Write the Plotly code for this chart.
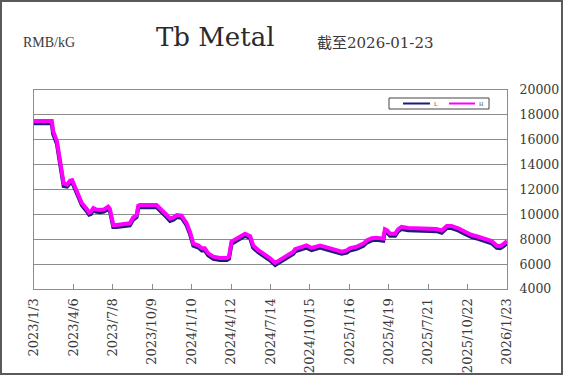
import plotly.graph_objects as go

# ---------------- data ----------------
dates = [
    "2023-01-03", "2023-02-14", "2023-02-17", "2023-02-21", "2023-02-26", "2023-03-05",
    "2023-03-10", "2023-03-14", "2023-03-22", "2023-03-29", "2023-04-03", "2023-04-06",
    "2023-04-14", "2023-04-21", "2023-04-26", "2023-05-07", "2023-05-13", "2023-05-17",
    "2023-05-23", "2023-05-29", "2023-06-08", "2023-06-17", "2023-06-27", "2023-07-01",
    "2023-07-06", "2023-07-09", "2023-07-17", "2023-07-25", "2023-08-10", "2023-08-17",
    "2023-08-25", "2023-09-02", "2023-09-06", "2023-09-10", "2023-10-19", "2023-10-31",
    "2023-11-12", "2023-11-20", "2023-11-28", "2023-12-06", "2023-12-17", "2023-12-29",
    "2024-01-06", "2024-01-14", "2024-01-26", "2024-02-03", "2024-02-10", "2024-02-18",
    "2024-03-01", "2024-03-17", "2024-04-02", "2024-04-07", "2024-04-13", "2024-04-25",
    "2024-05-07", "2024-05-15", "2024-05-27", "2024-06-03", "2024-06-15", "2024-06-27",
    "2024-07-13", "2024-07-25", "2024-08-05", "2024-08-21", "2024-08-29", "2024-09-06",
    "2024-09-10", "2024-09-22", "2024-10-07", "2024-10-19", "2024-10-27", "2024-11-08",
    "2024-11-24", "2024-12-17", "2024-12-29", "2025-01-10", "2025-01-17", "2025-02-02",
    "2025-02-18", "2025-02-26", "2025-03-10", "2025-03-21", "2025-03-29", "2025-04-06",
    "2025-04-10", "2025-04-16", "2025-04-22", "2025-05-04", "2025-05-11", "2025-05-19",
    "2025-06-04", "2025-06-28", "2025-07-21", "2025-08-10", "2025-08-22", "2025-09-03",
    "2025-09-14", "2025-09-22", "2025-09-30", "2025-10-16", "2025-11-01", "2025-11-16",
    "2025-12-02", "2025-12-18", "2025-12-30", "2026-01-07", "2026-01-14", "2026-01-23",
]

high = [
    17500, 17500, 16700, 16300, 15900, 14400,
    13300, 12500, 12400, 12700, 12750, 12500,
    11700, 11150, 10900, 10450, 10150, 10200,
    10500, 10400, 10350, 10400, 10620, 10450,
    9700, 9150, 9150, 9200, 9250, 9280,
    9750, 9950, 10700, 10750, 10750, 10400,
    9950, 9650, 9750, 9950, 9900, 9300,
    8600, 7650, 7500, 7270, 7270, 6870,
    6600, 6500, 6500, 6600, 7810, 8050,
    8300, 8450, 8250, 7500, 7130, 6870,
    6470, 6100, 6330, 6600, 6810, 7000,
    7200, 7350, 7500, 7300, 7400, 7500,
    7350, 7150, 7000, 7100, 7270, 7400,
    7650, 7900, 8080, 8120, 8080, 8050,
    8800, 8700, 8450, 8450, 8800, 9000,
    8900, 8850, 8850, 8820, 8700, 9070,
    9070, 9000, 8880, 8600, 8340, 8200,
    8050, 7850, 7480, 7450, 7600, 7850,
]

low = [
    17320, 17320, 16480, 16080, 15680, 14180,
    13080, 12280, 12230, 12530, 12580, 12330,
    11530, 10980, 10730, 10280, 9980, 10030,
    10330, 10230, 10180, 10230, 10430, 10280,
    9530, 8980, 8980, 9030, 9080, 9110,
    9580, 9780, 10530, 10580, 10580, 10230,
    9780, 9480, 9580, 9780, 9730, 9130,
    8430, 7480, 7330, 7100, 7100, 6700,
    6430, 6330, 6330, 6430, 7630, 7880,
    8130, 8280, 8080, 7330, 6960, 6700,
    6300, 5930, 6160, 6430, 6640, 6830,
    7030, 7180, 7330, 7130, 7230, 7330,
    7180, 6980, 6830, 6930, 7100, 7230,
    7480, 7730, 7910, 7950, 7910, 7880,
    8630, 8530, 8280, 8280, 8630, 8830,
    8730, 8680, 8680, 8650, 8530, 8900,
    8900, 8830, 8710, 8430, 8170, 8030,
    7880, 7680, 7310, 7280, 7430, 7680,
]

tick_dates = [
    "2023-01-03", "2023-04-06", "2023-07-08", "2023-10-09", "2024-01-10",
    "2024-04-12", "2024-07-14", "2024-10-15", "2025-01-16", "2025-04-19",
    "2025-07-21", "2025-10-22", "2026-01-23",
]
tick_labels = [
    "2023/1/3", "2023/4/6", "2023/7/8", "2023/10/9", "2024/1/10",
    "2024/4/12", "2024/7/14", "2024/10/15", "2025/1/16", "2025/4/19",
    "2025/7/21", "2025/10/22", "2026/1/23",
]
y_ticks = [4000, 6000, 8000, 10000, 12000, 14000, 16000, 18000, 20000]
y_labels = ["4000", "6000", "8000", "10000", "12000", "14000", "16000", "18000", "20000"]

# ---------------- layout geometry ----------------
W, H = 563, 375
L_, R_, T_, B_ = 34, 507, 90, 289   # plot area in pixels


def px(x):
    return (x - L_) / (R_ - L_)


def py(y):
    return (B_ - y) / (B_ - T_)


NAVY = "#1c1c78"
MAGENTA = "#ff00ff"
GRID = "#8c8c8c"
TXT = "#3a3a3a"
SERIF = "DejaVu Serif"

fig = go.Figure()
fig.add_trace(go.Scatter(x=dates, y=low, mode="lines", name="L",
                         line=dict(color=NAVY, width=4), showlegend=False))
fig.add_trace(go.Scatter(x=dates, y=high, mode="lines", name="H",
                         line=dict(color=MAGENTA, width=4), showlegend=False))

fig.update_layout(
    width=W, height=H,
    margin=dict(l=L_, r=W - R_, t=T_, b=H - B_, pad=0, autoexpand=False),
    paper_bgcolor="white", plot_bgcolor="white",
    showlegend=False,
    xaxis=dict(
        type="date", range=[tick_dates[0], tick_dates[-1]],
        tickmode="array", tickvals=tick_dates, ticktext=tick_labels,
        tickangle=-90, ticks="inside", ticklen=5, tickcolor=GRID,
        showgrid=False, zeroline=False, automargin=False,
        showline=True, linecolor=GRID, linewidth=1, mirror=True,
        ticklabelstandoff=3,
        tickfont=dict(family=SERIF, size=13, color=TXT),
    ),
    yaxis=dict(
        side="right", range=[4000, 20000], tickmode="array",
        tickvals=y_ticks, ticktext=y_labels, automargin=False,
        showgrid=True, gridcolor=GRID, gridwidth=1, zeroline=False,
        showline=True, linecolor=GRID, linewidth=1, mirror=True,
        ticks="", ticklabelstandoff=9,
        tickfont=dict(family=SERIF, size=12.5, color=TXT),
    ),
)

shapes = [
    # outer frame
    dict(type="rect", xref="paper", yref="paper", x0=px(1), x1=px(562), y0=py(374), y1=py(1),
         line=dict(color="#5a5a5a", width=2), fillcolor="rgba(0,0,0,0)", layer="above"),
    # legend box
    dict(type="rect", xref="paper", yref="paper", x0=px(389), x1=px(489), y0=py(109), y1=py(98),
         line=dict(color="#444444", width=1), fillcolor="white", layer="above"),
    dict(type="line", xref="paper", yref="paper", x0=px(403), x1=px(430), y0=py(103.5), y1=py(103.5),
         line=dict(color=NAVY, width=2), layer="above"),
    dict(type="line", xref="paper", yref="paper", x0=px(449), x1=px(475), y0=py(103.5), y1=py(103.5),
         line=dict(color=MAGENTA, width=2), layer="above"),
]
fig.update_layout(shapes=shapes)

annotations = [
    dict(text="L", x=px(432), y=py(103.5), xanchor="left", yanchor="middle",
         font=dict(family=SERIF, size=5, color=TXT)),
    dict(text="H", x=px(477), y=py(103.5), xanchor="left", yanchor="middle",
         font=dict(family=SERIF, size=5, color=TXT)),
    dict(text="RMB/kG", x=px(21), y=py(43), xanchor="left", yanchor="middle",
         font=dict(family="Liberation Serif", size=14, color=TXT)),
    dict(text="Tb Metal", x=px(215), y=py(37), xanchor="center", yanchor="middle",
         font=dict(family=SERIF, size=26, color="#2a2a2a")),
    dict(text="截至2026-01-23", x=px(315), y=py(43), xanchor="left", yanchor="middle",
         font=dict(family="DejaVu Serif, Noto Sans CJK SC", size=15, color=TXT)),
]
for a in annotations:
    a.update(xref="paper", yref="paper", showarrow=False)
fig.update_layout(annotations=annotations)

fig.write_html("out.html")
